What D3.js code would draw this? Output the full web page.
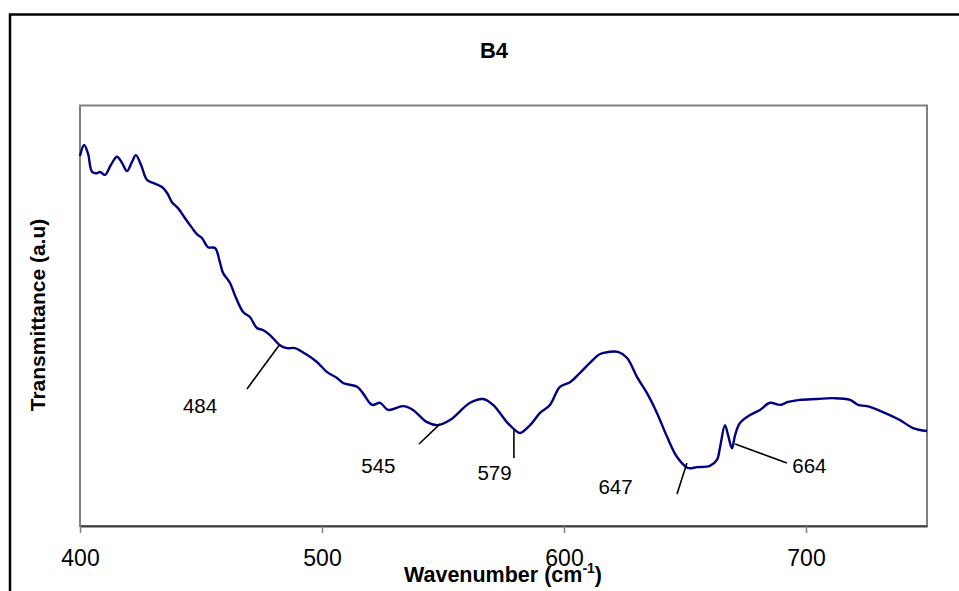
<!DOCTYPE html>
<html>
<head>
<meta charset="utf-8">
<script src="https://cdn.jsdelivr.net/npm/d3@7"></script>
<style>
  html, body { margin: 0; padding: 0; background: #fff; }
  svg { display: block; font-family: "Liberation Sans", Arial, sans-serif; }
</style>
</head>
<body>
<svg id="chart" width="959" height="591"></svg>
<script>
// FTIR spectrum of sample B4: wavenumber (cm-1) and transmittance (a.u.)
const wavenumber = [
  400.0, 401.7, 403.3, 405.0, 407.0, 408.3, 410.3, 412.8, 415.3,
  417.4, 419.4, 421.5, 423.1, 425.2, 427.7, 430.2, 433.9, 436.0, 438.0,
  440.5, 443.4, 446.3, 448.3, 450.4, 452.9, 455.8, 457.9, 459.1, 462.0,
  464.0, 467.4, 470.2, 473.1, 475.6, 478.5, 482.6, 485.5, 488.8, 493.8,
  497.9, 502.1, 506.2, 508.7, 514.5, 516.9, 520.7, 524.0, 527.3, 533.5,
  537.6, 543.4, 547.9, 552.9, 561.2, 566.5, 570.7, 576.4, 579.8, 581.8,
  586.0, 590.1, 594.2, 598.3, 602.5, 606.6, 610.7, 614.9, 618.6, 622.3,
  626.0, 630.2, 634.3, 638.4, 642.6, 646.7, 651.2, 655.0, 660.3, 663.2,
  664.5, 666.5, 667.8, 669.4, 670.7, 672.7, 676.9, 681.0, 685.1, 689.3,
  692.6, 697.5, 704.5, 711.2, 718.2, 721.5, 725.2, 731.8, 738.8, 744.2,
  750.0
];
const transmittance = [
  88.0, 90.6, 88.6, 84.2, 83.9, 84.2, 83.5, 85.9, 87.8,
  86.3, 84.4, 86.6, 88.2, 85.9, 82.3, 81.6, 80.6, 79.2, 77.0,
  75.6, 73.2, 70.9, 69.4, 68.5, 66.3, 66.1, 62.5, 60.2, 57.8,
  54.9, 50.9, 49.7, 47.1, 46.6, 45.4, 43.0, 42.3, 42.3, 40.7,
  39.0, 36.6, 35.2, 34.0, 33.1, 31.6, 28.8, 29.3, 27.6, 28.5,
  27.6, 24.7, 24.0, 25.2, 29.3, 30.2, 28.8, 24.7, 22.8, 22.1,
  24.0, 26.9, 28.8, 33.1, 34.2, 36.4, 38.8, 40.9, 41.4, 41.4,
  40.0, 35.4, 31.6, 26.9, 21.2, 16.4, 13.8, 14.0, 14.3, 15.7,
  18.8, 24.0, 21.6, 18.5, 21.6, 24.5, 26.4, 27.6, 29.3, 28.8,
  29.5, 30.0, 30.2, 30.4, 30.0, 28.8, 28.5, 27.1, 25.2, 23.3,
  22.6
];

// Band assignments: label, leader line ends and label anchor, in (cm-1, a.u.)
const bandLabels = ["484", "545", "579", "647", "664"];
const leaderFrom = [[482.6, 43.2], [548.8, 24.3], [579.3, 23.1], [650.8, 15.0], [670.7, 19.5]];
const leaderTo   = [[469.0, 32.6], [540.1, 19.5], [579.3, 16.2], [646.7, 7.6], [692.1, 15.0]];
const labelAt    = [[449.6, 26.9], [523.3, 12.6], [571.3, 10.9], [621.3, 7.6], [701.4, 12.6]];

const xTicks = [400, 500, 600, 700];
const xDomain = [400, 750];
const yDomain = [0, 100];

const svg = d3.select("#chart");
const plot = { left: 80, right: 927, top: 105.5, bottom: 526 };

const x = d3.scaleLinear().domain(xDomain).range([plot.left, plot.right]);
const y = d3.scaleLinear().domain(yDomain).range([plot.bottom, plot.top]);

// outer chart frame (runs past the right and bottom edges)
svg.append("rect")
  .attr("x", 10).attr("y", 14.5)
  .attr("width", 1000).attr("height", 700)
  .attr("fill", "none").attr("stroke", "#000").attr("stroke-width", 2.5);

// plot area frame
svg.append("rect")
  .attr("x", plot.left).attr("y", plot.top)
  .attr("width", plot.right - plot.left).attr("height", plot.bottom - plot.top)
  .attr("fill", "#fff").attr("stroke", "#808080").attr("stroke-width", 2);

// x axis
const xAxis = svg.append("g")
  .attr("transform", `translate(0,${plot.bottom})`)
  .call(d3.axisBottom(x).tickValues(xTicks).tickSize(7).tickPadding(17).tickSizeOuter(0));
xAxis.select(".domain").attr("stroke", "#404040").attr("stroke-width", 2);
xAxis.selectAll(".tick line").attr("stroke", "#808080").attr("stroke-width", 1.5);
xAxis.selectAll(".tick text")
  .attr("fill", "#000")
  .style("font-family", "'Liberation Sans', Arial, sans-serif")
  .style("font-size", "23px");

// spectrum
const line = d3.line()
  .x((d, i) => x(wavenumber[i]))
  .y(d => y(d))
  .curve(d3.curveCatmullRom.alpha(0.5));

svg.append("path")
  .datum(transmittance)
  .attr("d", line)
  .attr("fill", "none")
  .attr("stroke", "#000080")
  .attr("stroke-width", 2.4)
  .attr("stroke-linejoin", "round");

// band leaders and labels
const bands = bandLabels.map((t, i) => ({ t, a: leaderFrom[i], b: leaderTo[i], p: labelAt[i] }));
svg.append("g").selectAll("line").data(bands).join("line")
  .attr("x1", d => x(d.a[0])).attr("y1", d => y(d.a[1]))
  .attr("x2", d => x(d.b[0])).attr("y2", d => y(d.b[1]))
  .attr("stroke", "#000").attr("stroke-width", 1.6);
svg.append("g").selectAll("text").data(bands).join("text")
  .attr("x", d => x(d.p[0])).attr("y", d => y(d.p[1]))
  .attr("text-anchor", "middle")
  .style("font-size", "20.5px")
  .text(d => d.t);

// title
svg.append("text")
  .attr("x", 494).attr("y", 58)
  .attr("text-anchor", "middle")
  .style("font-size", "22px").style("font-weight", "bold")
  .text("B4");

// x axis title
const xt = svg.append("text")
  .attr("x", 503).attr("y", 582)
  .attr("text-anchor", "middle")
  .style("font-size", "21.5px").style("font-weight", "bold");
xt.append("tspan").text("Wavenumber (cm");
xt.append("tspan").attr("dy", -9).style("font-size", "14px").text("-1");
xt.append("tspan").attr("dy", 9).text(")");

// y axis title
svg.append("text")
  .attr("transform", "translate(45,315) rotate(-90)")
  .attr("text-anchor", "middle")
  .style("font-size", "21px").style("font-weight", "bold")
  .text("Transmittance (a.u)");
</script>
</body>
</html>
